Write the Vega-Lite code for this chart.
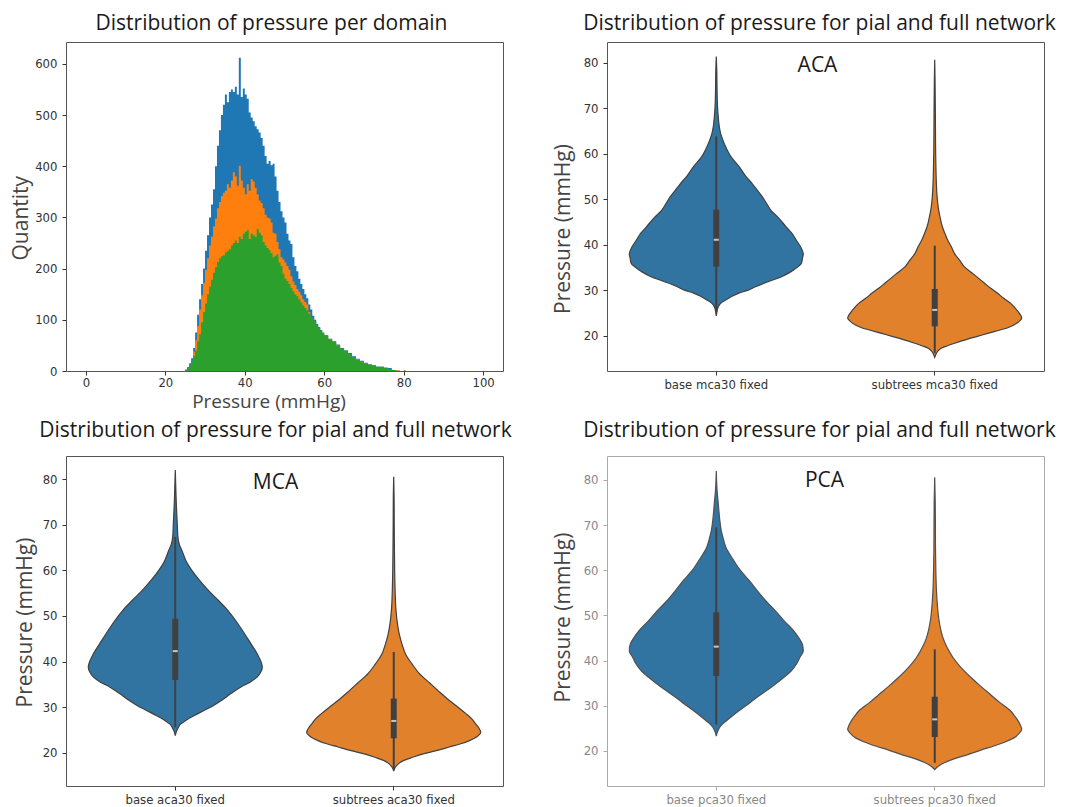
{
"$schema": "https://vega.github.io/schema/vega-lite/v6.json",
"background": "white",
"padding": {"left": 10, "top": 12, "right": 0, "bottom": 0},
"config": {
 "view": {"stroke": "#555555", "strokeWidth": 1},
 "axis": {"domain": false, "grid": false, "labelFont": "DejaVu Sans", "labelFontSize": 11.7, "labelColor": "#333333", "tickColor": "#333333", "tickSize": 4, "labelPadding": 4, "titleFont": "Open Sans", "titleFontSize": 21, "titleFontWeight": "normal", "titleColor": "#444444"},
 "title": {"font": "Open Sans", "fontSize": 21, "fontWeight": "normal", "color": "#1a1a1a", "anchor": "middle", "baseline": "bottom"}
},
"datasets": {
 "hist": [
  {"s":"domain 1","p":25,"n":3},{"s":"domain 1","p":25.5,"n":8},{"s":"domain 1","p":26,"n":15},{"s":"domain 1","p":26.5,"n":25},{"s":"domain 1","p":27,"n":45},{"s":"domain 1","p":27.5,"n":75},{"s":"domain 1","p":28,"n":110},{"s":"domain 1","p":28.5,"n":140},{"s":"domain 1","p":29,"n":170},{"s":"domain 1","p":29.5,"n":200},{"s":"domain 1","p":30,"n":235},{"s":"domain 1","p":30.5,"n":265},{"s":"domain 1","p":31,"n":300},{"s":"domain 1","p":31.5,"n":325},{"s":"domain 1","p":32,"n":355},{"s":"domain 1","p":32.5,"n":400},{"s":"domain 1","p":33,"n":440},{"s":"domain 1","p":33.5,"n":470},{"s":"domain 1","p":34,"n":500},{"s":"domain 1","p":34.5,"n":520},{"s":"domain 1","p":35,"n":540},{"s":"domain 1","p":35.5,"n":525},{"s":"domain 1","p":36,"n":545},{"s":"domain 1","p":36.5,"n":550},{"s":"domain 1","p":37,"n":545},{"s":"domain 1","p":37.5,"n":555},{"s":"domain 1","p":38,"n":540},{"s":"domain 1","p":38.5,"n":612},{"s":"domain 1","p":39,"n":535},{"s":"domain 1","p":39.5,"n":552},{"s":"domain 1","p":40,"n":540},{"s":"domain 1","p":40.5,"n":532},{"s":"domain 1","p":41,"n":505},{"s":"domain 1","p":41.5,"n":495},{"s":"domain 1","p":42,"n":488},{"s":"domain 1","p":42.5,"n":478},{"s":"domain 1","p":43,"n":472},{"s":"domain 1","p":43.5,"n":466},{"s":"domain 1","p":44,"n":455},{"s":"domain 1","p":44.5,"n":440},{"s":"domain 1","p":45,"n":420},{"s":"domain 1","p":45.5,"n":405},{"s":"domain 1","p":46,"n":410},{"s":"domain 1","p":46.5,"n":402},{"s":"domain 1","p":47,"n":405},{"s":"domain 1","p":47.5,"n":380},{"s":"domain 1","p":48,"n":352},{"s":"domain 1","p":48.5,"n":330},{"s":"domain 1","p":49,"n":312},{"s":"domain 1","p":49.5,"n":300},{"s":"domain 1","p":50,"n":290},{"s":"domain 1","p":50.5,"n":268},{"s":"domain 1","p":51,"n":255},{"s":"domain 1","p":51.5,"n":248},{"s":"domain 1","p":52,"n":222},{"s":"domain 1","p":52.5,"n":205},{"s":"domain 1","p":53,"n":195},{"s":"domain 1","p":53.5,"n":180},{"s":"domain 1","p":54,"n":170},{"s":"domain 1","p":54.5,"n":160},{"s":"domain 1","p":55,"n":150},{"s":"domain 1","p":55.5,"n":142},{"s":"domain 1","p":56,"n":130},{"s":"domain 1","p":56.5,"n":120},{"s":"domain 1","p":57,"n":108},{"s":"domain 1","p":57.5,"n":100},{"s":"domain 1","p":58,"n":92},{"s":"domain 1","p":58.5,"n":86},{"s":"domain 1","p":59,"n":80},{"s":"domain 1","p":59.5,"n":75},{"s":"domain 1","p":60,"n":70},{"s":"domain 1","p":61,"n":63},{"s":"domain 1","p":62,"n":58},{"s":"domain 1","p":63,"n":52},{"s":"domain 1","p":64,"n":45},{"s":"domain 1","p":65,"n":40},{"s":"domain 1","p":66,"n":35},{"s":"domain 1","p":67,"n":29},{"s":"domain 1","p":68,"n":24},{"s":"domain 1","p":69,"n":20},{"s":"domain 1","p":70,"n":16},{"s":"domain 1","p":71,"n":13},{"s":"domain 1","p":72,"n":11},{"s":"domain 1","p":73,"n":9},{"s":"domain 1","p":74,"n":8},{"s":"domain 1","p":75,"n":7},{"s":"domain 1","p":76,"n":6},{"s":"domain 1","p":77,"n":2},{"s":"domain 1","p":78,"n":1},{"s":"domain 1","p":79,"n":0},
  {"s":"domain 2","p":26,"n":5},{"s":"domain 2","p":26.5,"n":18},{"s":"domain 2","p":27,"n":38},{"s":"domain 2","p":27.5,"n":60},{"s":"domain 2","p":28,"n":88},{"s":"domain 2","p":28.5,"n":120},{"s":"domain 2","p":29,"n":148},{"s":"domain 2","p":29.5,"n":172},{"s":"domain 2","p":30,"n":198},{"s":"domain 2","p":30.5,"n":220},{"s":"domain 2","p":31,"n":245},{"s":"domain 2","p":31.5,"n":262},{"s":"domain 2","p":32,"n":282},{"s":"domain 2","p":32.5,"n":298},{"s":"domain 2","p":33,"n":318},{"s":"domain 2","p":33.5,"n":330},{"s":"domain 2","p":34,"n":342},{"s":"domain 2","p":34.5,"n":348},{"s":"domain 2","p":35,"n":352},{"s":"domain 2","p":35.5,"n":365},{"s":"domain 2","p":36,"n":358},{"s":"domain 2","p":36.5,"n":372},{"s":"domain 2","p":37,"n":388},{"s":"domain 2","p":37.5,"n":380},{"s":"domain 2","p":38,"n":362},{"s":"domain 2","p":38.5,"n":401},{"s":"domain 2","p":39,"n":372},{"s":"domain 2","p":39.5,"n":358},{"s":"domain 2","p":40,"n":345},{"s":"domain 2","p":40.5,"n":365},{"s":"domain 2","p":41,"n":352},{"s":"domain 2","p":41.5,"n":375},{"s":"domain 2","p":42,"n":370},{"s":"domain 2","p":42.5,"n":358},{"s":"domain 2","p":43,"n":345},{"s":"domain 2","p":43.5,"n":333},{"s":"domain 2","p":44,"n":328},{"s":"domain 2","p":44.5,"n":318},{"s":"domain 2","p":45,"n":305},{"s":"domain 2","p":45.5,"n":300},{"s":"domain 2","p":46,"n":298},{"s":"domain 2","p":46.5,"n":290},{"s":"domain 2","p":47,"n":270},{"s":"domain 2","p":47.5,"n":268},{"s":"domain 2","p":48,"n":252},{"s":"domain 2","p":48.5,"n":238},{"s":"domain 2","p":49,"n":222},{"s":"domain 2","p":49.5,"n":218},{"s":"domain 2","p":50,"n":212},{"s":"domain 2","p":50.5,"n":205},{"s":"domain 2","p":51,"n":198},{"s":"domain 2","p":51.5,"n":185},{"s":"domain 2","p":52,"n":175},{"s":"domain 2","p":52.5,"n":168},{"s":"domain 2","p":53,"n":160},{"s":"domain 2","p":53.5,"n":155},{"s":"domain 2","p":54,"n":148},{"s":"domain 2","p":54.5,"n":140},{"s":"domain 2","p":55,"n":135},{"s":"domain 2","p":55.5,"n":130},{"s":"domain 2","p":56,"n":115},{"s":"domain 2","p":56.5,"n":105},{"s":"domain 2","p":57,"n":100},{"s":"domain 2","p":57.5,"n":92},{"s":"domain 2","p":58,"n":86},{"s":"domain 2","p":58.5,"n":80},{"s":"domain 2","p":59,"n":76},{"s":"domain 2","p":59.5,"n":72},{"s":"domain 2","p":60,"n":68},{"s":"domain 2","p":61,"n":62},{"s":"domain 2","p":62,"n":56},{"s":"domain 2","p":63,"n":50},{"s":"domain 2","p":64,"n":42},{"s":"domain 2","p":65,"n":38},{"s":"domain 2","p":66,"n":33},{"s":"domain 2","p":67,"n":27},{"s":"domain 2","p":68,"n":23},{"s":"domain 2","p":69,"n":18},{"s":"domain 2","p":70,"n":15},{"s":"domain 2","p":71,"n":12},{"s":"domain 2","p":72,"n":10},{"s":"domain 2","p":73,"n":8},{"s":"domain 2","p":74,"n":8},{"s":"domain 2","p":75,"n":6},{"s":"domain 2","p":76,"n":4},{"s":"domain 2","p":77,"n":2},{"s":"domain 2","p":78,"n":1},{"s":"domain 2","p":79,"n":0},{"s":"domain 2","p":80,"n":2},{"s":"domain 2","p":80.5,"n":0},
  {"s":"domain 3","p":25,"n":2},{"s":"domain 3","p":25.5,"n":6},{"s":"domain 3","p":26,"n":12},{"s":"domain 3","p":26.5,"n":20},{"s":"domain 3","p":27,"n":30},{"s":"domain 3","p":27.5,"n":40},{"s":"domain 3","p":28,"n":58},{"s":"domain 3","p":28.5,"n":72},{"s":"domain 3","p":29,"n":95},{"s":"domain 3","p":29.5,"n":115},{"s":"domain 3","p":30,"n":132},{"s":"domain 3","p":30.5,"n":150},{"s":"domain 3","p":31,"n":165},{"s":"domain 3","p":31.5,"n":178},{"s":"domain 3","p":32,"n":192},{"s":"domain 3","p":32.5,"n":203},{"s":"domain 3","p":33,"n":213},{"s":"domain 3","p":33.5,"n":220},{"s":"domain 3","p":34,"n":224},{"s":"domain 3","p":34.5,"n":226},{"s":"domain 3","p":35,"n":232},{"s":"domain 3","p":35.5,"n":235},{"s":"domain 3","p":36,"n":238},{"s":"domain 3","p":36.5,"n":245},{"s":"domain 3","p":37,"n":250},{"s":"domain 3","p":37.5,"n":255},{"s":"domain 3","p":38,"n":250},{"s":"domain 3","p":38.5,"n":262},{"s":"domain 3","p":39,"n":258},{"s":"domain 3","p":39.5,"n":268},{"s":"domain 3","p":40,"n":272},{"s":"domain 3","p":40.5,"n":275},{"s":"domain 3","p":41,"n":258},{"s":"domain 3","p":41.5,"n":268},{"s":"domain 3","p":42,"n":265},{"s":"domain 3","p":42.5,"n":262},{"s":"domain 3","p":43,"n":278},{"s":"domain 3","p":43.5,"n":270},{"s":"domain 3","p":44,"n":265},{"s":"domain 3","p":44.5,"n":252},{"s":"domain 3","p":45,"n":245},{"s":"domain 3","p":45.5,"n":240},{"s":"domain 3","p":46,"n":236},{"s":"domain 3","p":46.5,"n":230},{"s":"domain 3","p":47,"n":222},{"s":"domain 3","p":47.5,"n":225},{"s":"domain 3","p":48,"n":228},{"s":"domain 3","p":48.5,"n":212},{"s":"domain 3","p":49,"n":205},{"s":"domain 3","p":49.5,"n":190},{"s":"domain 3","p":50,"n":180},{"s":"domain 3","p":50.5,"n":176},{"s":"domain 3","p":51,"n":170},{"s":"domain 3","p":51.5,"n":162},{"s":"domain 3","p":52,"n":156},{"s":"domain 3","p":52.5,"n":150},{"s":"domain 3","p":53,"n":146},{"s":"domain 3","p":53.5,"n":140},{"s":"domain 3","p":54,"n":134},{"s":"domain 3","p":54.5,"n":128},{"s":"domain 3","p":55,"n":123},{"s":"domain 3","p":55.5,"n":118},{"s":"domain 3","p":56,"n":112},{"s":"domain 3","p":56.5,"n":106},{"s":"domain 3","p":57,"n":100},{"s":"domain 3","p":57.5,"n":95},{"s":"domain 3","p":58,"n":88},{"s":"domain 3","p":58.5,"n":84},{"s":"domain 3","p":59,"n":78},{"s":"domain 3","p":59.5,"n":74},{"s":"domain 3","p":60,"n":70},{"s":"domain 3","p":61,"n":62},{"s":"domain 3","p":62,"n":57},{"s":"domain 3","p":63,"n":50},{"s":"domain 3","p":64,"n":44},{"s":"domain 3","p":65,"n":40},{"s":"domain 3","p":66,"n":34},{"s":"domain 3","p":67,"n":28},{"s":"domain 3","p":68,"n":22},{"s":"domain 3","p":69,"n":17},{"s":"domain 3","p":70,"n":15},{"s":"domain 3","p":71,"n":12},{"s":"domain 3","p":72,"n":11},{"s":"domain 3","p":73,"n":8},{"s":"domain 3","p":74,"n":9},{"s":"domain 3","p":75,"n":6},{"s":"domain 3","p":76,"n":4},{"s":"domain 3","p":77,"n":2},{"s":"domain 3","p":78,"n":0}
 ],
 "violin": [
  {"panel":"ACA","side":"base","p":81.3,"w":0},{"panel":"ACA","side":"base","p":78,"w":0.006},{"panel":"ACA","side":"base","p":75,"w":0.008},{"panel":"ACA","side":"base","p":72,"w":0.011},{"panel":"ACA","side":"base","p":70,"w":0.015},{"panel":"ACA","side":"base","p":68,"w":0.023},{"panel":"ACA","side":"base","p":66,"w":0.034},{"panel":"ACA","side":"base","p":64.5,"w":0.049},{"panel":"ACA","side":"base","p":63,"w":0.075},{"panel":"ACA","side":"base","p":61,"w":0.12},{"panel":"ACA","side":"base","p":59,"w":0.18},{"panel":"ACA","side":"base","p":57.2,"w":0.26},{"panel":"ACA","side":"base","p":55,"w":0.34},{"panel":"ACA","side":"base","p":53.5,"w":0.41},{"panel":"ACA","side":"base","p":52,"w":0.47},{"panel":"ACA","side":"base","p":50.5,"w":0.53},{"panel":"ACA","side":"base","p":49,"w":0.58},{"panel":"ACA","side":"base","p":47.5,"w":0.63},{"panel":"ACA","side":"base","p":46,"w":0.71},{"panel":"ACA","side":"base","p":44,"w":0.8},{"panel":"ACA","side":"base","p":42.5,"w":0.87},{"panel":"ACA","side":"base","p":41,"w":0.92},{"panel":"ACA","side":"base","p":39.5,"w":0.97},{"panel":"ACA","side":"base","p":38,"w":1.0},{"panel":"ACA","side":"base","p":37,"w":0.99},{"panel":"ACA","side":"base","p":36,"w":0.98},{"panel":"ACA","side":"base","p":35.2,"w":0.94},{"panel":"ACA","side":"base","p":34,"w":0.85},{"panel":"ACA","side":"base","p":33,"w":0.75},{"panel":"ACA","side":"base","p":32,"w":0.61},{"panel":"ACA","side":"base","p":30.8,"w":0.45},{"panel":"ACA","side":"base","p":30,"w":0.36},{"panel":"ACA","side":"base","p":29.4,"w":0.26},{"panel":"ACA","side":"base","p":28.6,"w":0.17},{"panel":"ACA","side":"base","p":27.9,"w":0.11},{"panel":"ACA","side":"base","p":27.3,"w":0.06},{"panel":"ACA","side":"base","p":26.8,"w":0.035},{"panel":"ACA","side":"base","p":26,"w":0.015},{"panel":"ACA","side":"base","p":25.2,"w":0.007},{"panel":"ACA","side":"base","p":24.4,"w":0},
  {"panel":"ACA","side":"sub","p":80.6,"w":0},{"panel":"ACA","side":"sub","p":76,"w":0.004},{"panel":"ACA","side":"sub","p":72,"w":0.006},{"panel":"ACA","side":"sub","p":68,"w":0.008},{"panel":"ACA","side":"sub","p":64.5,"w":0.009},{"panel":"ACA","side":"sub","p":60,"w":0.011},{"panel":"ACA","side":"sub","p":56,"w":0.015},{"panel":"ACA","side":"sub","p":53.5,"w":0.019},{"panel":"ACA","side":"sub","p":50,"w":0.03},{"panel":"ACA","side":"sub","p":48,"w":0.042},{"panel":"ACA","side":"sub","p":46.2,"w":0.06},{"panel":"ACA","side":"sub","p":44,"w":0.087},{"panel":"ACA","side":"sub","p":42.5,"w":0.117},{"panel":"ACA","side":"sub","p":41,"w":0.15},{"panel":"ACA","side":"sub","p":39.6,"w":0.19},{"panel":"ACA","side":"sub","p":38,"w":0.23},{"panel":"ACA","side":"sub","p":36.5,"w":0.29},{"panel":"ACA","side":"sub","p":35.2,"w":0.34},{"panel":"ACA","side":"sub","p":33.5,"w":0.45},{"panel":"ACA","side":"sub","p":31.6,"w":0.57},{"panel":"ACA","side":"sub","p":30.5,"w":0.64},{"panel":"ACA","side":"sub","p":29.4,"w":0.72},{"panel":"ACA","side":"sub","p":28.3,"w":0.79},{"panel":"ACA","side":"sub","p":27.2,"w":0.87},{"panel":"ACA","side":"sub","p":26.2,"w":0.92},{"panel":"ACA","side":"sub","p":25.3,"w":0.96},{"panel":"ACA","side":"sub","p":24.5,"w":0.99},{"panel":"ACA","side":"sub","p":23.9,"w":1.0},{"panel":"ACA","side":"sub","p":23.2,"w":0.97},{"panel":"ACA","side":"sub","p":22.4,"w":0.91},{"panel":"ACA","side":"sub","p":21.8,"w":0.84},{"panel":"ACA","side":"sub","p":21.3,"w":0.75},{"panel":"ACA","side":"sub","p":20.6,"w":0.62},{"panel":"ACA","side":"sub","p":19.9,"w":0.49},{"panel":"ACA","side":"sub","p":19.2,"w":0.36},{"panel":"ACA","side":"sub","p":18.4,"w":0.23},{"panel":"ACA","side":"sub","p":17.8,"w":0.14},{"panel":"ACA","side":"sub","p":17.3,"w":0.075},{"panel":"ACA","side":"sub","p":16.7,"w":0.038},{"panel":"ACA","side":"sub","p":16.2,"w":0.02},{"panel":"ACA","side":"sub","p":15.3,"w":0},
  {"panel":"MCA","side":"base","p":82,"w":0},{"panel":"MCA","side":"base","p":78,"w":0.006},{"panel":"MCA","side":"base","p":75,"w":0.011},{"panel":"MCA","side":"base","p":73.2,"w":0.015},{"panel":"MCA","side":"base","p":70,"w":0.023},{"panel":"MCA","side":"base","p":67.3,"w":0.03},{"panel":"MCA","side":"base","p":65.5,"w":0.049},{"panel":"MCA","side":"base","p":64.4,"w":0.075},{"panel":"MCA","side":"base","p":62,"w":0.125},{"panel":"MCA","side":"base","p":60,"w":0.19},{"panel":"MCA","side":"base","p":58,"w":0.27},{"panel":"MCA","side":"base","p":55.6,"w":0.38},{"panel":"MCA","side":"base","p":53.5,"w":0.49},{"panel":"MCA","side":"base","p":51.3,"w":0.6},{"panel":"MCA","side":"base","p":48.3,"w":0.72},{"panel":"MCA","side":"base","p":46,"w":0.8},{"panel":"MCA","side":"base","p":43.9,"w":0.87},{"panel":"MCA","side":"base","p":42.4,"w":0.92},{"panel":"MCA","side":"base","p":41,"w":0.96},{"panel":"MCA","side":"base","p":38.8,"w":1.0},{"panel":"MCA","side":"base","p":37.6,"w":0.98},{"panel":"MCA","side":"base","p":36.6,"w":0.94},{"panel":"MCA","side":"base","p":35.5,"w":0.86},{"panel":"MCA","side":"base","p":34.4,"w":0.75},{"panel":"MCA","side":"base","p":33,"w":0.64},{"panel":"MCA","side":"base","p":31.5,"w":0.53},{"panel":"MCA","side":"base","p":30.4,"w":0.44},{"panel":"MCA","side":"base","p":29.3,"w":0.33},{"panel":"MCA","side":"base","p":28.2,"w":0.22},{"panel":"MCA","side":"base","p":27.1,"w":0.12},{"panel":"MCA","side":"base","p":26.3,"w":0.06},{"panel":"MCA","side":"base","p":25.6,"w":0.035},{"panel":"MCA","side":"base","p":24.8,"w":0.015},{"panel":"MCA","side":"base","p":23.8,"w":0},
  {"panel":"MCA","side":"sub","p":80.5,"w":0},{"panel":"MCA","side":"sub","p":75,"w":0.005},{"panel":"MCA","side":"sub","p":70,"w":0.006},{"panel":"MCA","side":"sub","p":65,"w":0.008},{"panel":"MCA","side":"sub","p":60,"w":0.011},{"panel":"MCA","side":"sub","p":55,"w":0.017},{"panel":"MCA","side":"sub","p":51.3,"w":0.026},{"panel":"MCA","side":"sub","p":48,"w":0.045},{"panel":"MCA","side":"sub","p":46,"w":0.064},{"panel":"MCA","side":"sub","p":43.9,"w":0.094},{"panel":"MCA","side":"sub","p":41.5,"w":0.14},{"panel":"MCA","side":"sub","p":39.5,"w":0.21},{"panel":"MCA","side":"sub","p":37.5,"w":0.29},{"panel":"MCA","side":"sub","p":35.2,"w":0.42},{"panel":"MCA","side":"sub","p":33.3,"w":0.53},{"panel":"MCA","side":"sub","p":31.5,"w":0.64},{"panel":"MCA","side":"sub","p":30,"w":0.74},{"panel":"MCA","side":"sub","p":28.6,"w":0.83},{"panel":"MCA","side":"sub","p":27.4,"w":0.9},{"panel":"MCA","side":"sub","p":26.4,"w":0.94},{"panel":"MCA","side":"sub","p":25.4,"w":0.98},{"panel":"MCA","side":"sub","p":24.5,"w":1.0},{"panel":"MCA","side":"sub","p":23.6,"w":0.96},{"panel":"MCA","side":"sub","p":22.7,"w":0.87},{"panel":"MCA","side":"sub","p":22,"w":0.77},{"panel":"MCA","side":"sub","p":21.3,"w":0.64},{"panel":"MCA","side":"sub","p":20.5,"w":0.49},{"panel":"MCA","side":"sub","p":19.8,"w":0.34},{"panel":"MCA","side":"sub","p":19,"w":0.21},{"panel":"MCA","side":"sub","p":18.3,"w":0.11},{"panel":"MCA","side":"sub","p":17.6,"w":0.053},{"panel":"MCA","side":"sub","p":16.9,"w":0.019},{"panel":"MCA","side":"sub","p":16,"w":0},
  {"panel":"PCA","side":"base","p":82,"w":0},{"panel":"PCA","side":"base","p":78,"w":0.008},{"panel":"PCA","side":"base","p":74.7,"w":0.023},{"panel":"PCA","side":"base","p":71.5,"w":0.038},{"panel":"PCA","side":"base","p":68.8,"w":0.057},{"panel":"PCA","side":"base","p":67,"w":0.08},{"panel":"PCA","side":"base","p":65.1,"w":0.11},{"panel":"PCA","side":"base","p":62.5,"w":0.19},{"panel":"PCA","side":"base","p":59.9,"w":0.28},{"panel":"PCA","side":"base","p":57.7,"w":0.38},{"panel":"PCA","side":"base","p":55.5,"w":0.47},{"panel":"PCA","side":"base","p":53.2,"w":0.57},{"panel":"PCA","side":"base","p":51,"w":0.68},{"panel":"PCA","side":"base","p":48.8,"w":0.78},{"panel":"PCA","side":"base","p":46.6,"w":0.89},{"panel":"PCA","side":"base","p":45,"w":0.95},{"panel":"PCA","side":"base","p":43.6,"w":0.99},{"panel":"PCA","side":"base","p":42.2,"w":1.0},{"panel":"PCA","side":"base","p":40.7,"w":0.96},{"panel":"PCA","side":"base","p":39.2,"w":0.92},{"panel":"PCA","side":"base","p":37.7,"w":0.86},{"panel":"PCA","side":"base","p":36.2,"w":0.77},{"panel":"PCA","side":"base","p":34.8,"w":0.68},{"panel":"PCA","side":"base","p":33.3,"w":0.57},{"panel":"PCA","side":"base","p":31.8,"w":0.46},{"panel":"PCA","side":"base","p":30.3,"w":0.36},{"panel":"PCA","side":"base","p":28.9,"w":0.26},{"panel":"PCA","side":"base","p":27.7,"w":0.18},{"panel":"PCA","side":"base","p":26.6,"w":0.11},{"panel":"PCA","side":"base","p":25.9,"w":0.068},{"panel":"PCA","side":"base","p":25.2,"w":0.038},{"panel":"PCA","side":"base","p":24.3,"w":0.015},{"panel":"PCA","side":"base","p":23.3,"w":0},
  {"panel":"PCA","side":"sub","p":80.6,"w":0},{"panel":"PCA","side":"sub","p":75,"w":0.006},{"panel":"PCA","side":"sub","p":70,"w":0.008},{"panel":"PCA","side":"sub","p":65,"w":0.009},{"panel":"PCA","side":"sub","p":60,"w":0.013},{"panel":"PCA","side":"sub","p":56,"w":0.019},{"panel":"PCA","side":"sub","p":52.5,"w":0.03},{"panel":"PCA","side":"sub","p":49,"w":0.049},{"panel":"PCA","side":"sub","p":47,"w":0.068},{"panel":"PCA","side":"sub","p":45.1,"w":0.094},{"panel":"PCA","side":"sub","p":43,"w":0.14},{"panel":"PCA","side":"sub","p":40.7,"w":0.21},{"panel":"PCA","side":"sub","p":38.5,"w":0.3},{"panel":"PCA","side":"sub","p":36.2,"w":0.42},{"panel":"PCA","side":"sub","p":34.3,"w":0.53},{"panel":"PCA","side":"sub","p":32.5,"w":0.64},{"panel":"PCA","side":"sub","p":30.7,"w":0.75},{"panel":"PCA","side":"sub","p":28.9,"w":0.87},{"panel":"PCA","side":"sub","p":27.7,"w":0.92},{"panel":"PCA","side":"sub","p":26.6,"w":0.96},{"panel":"PCA","side":"sub","p":25.7,"w":0.985},{"panel":"PCA","side":"sub","p":24.8,"w":1.0},{"panel":"PCA","side":"sub","p":23.9,"w":0.97},{"panel":"PCA","side":"sub","p":22.9,"w":0.91},{"panel":"PCA","side":"sub","p":22,"w":0.81},{"panel":"PCA","side":"sub","p":21.1,"w":0.68},{"panel":"PCA","side":"sub","p":20.2,"w":0.53},{"panel":"PCA","side":"sub","p":19.2,"w":0.38},{"panel":"PCA","side":"sub","p":18.3,"w":0.23},{"panel":"PCA","side":"sub","p":17.4,"w":0.11},{"panel":"PCA","side":"sub","p":16.7,"w":0.045},{"panel":"PCA","side":"sub","p":15.9,"w":0}
 ],
 "box": [
  {"panel":"ACA","group":"base mca30 fixed","lo":25.4,"q1":35.2,"med":41.1,"q3":47.7,"hi":63.8},
  {"panel":"ACA","group":"subtrees mca30 fixed","lo":16.2,"q1":22.1,"med":25.7,"q3":30.3,"hi":39.8},
  {"panel":"MCA","group":"base aca30 fixed","lo":25.6,"q1":36.0,"med":42.3,"q3":49.4,"hi":67.3},
  {"panel":"MCA","group":"subtrees aca30 fixed","lo":16.5,"q1":23.2,"med":27.0,"q3":31.9,"hi":42.1},
  {"panel":"PCA","group":"base pca30 fixed","lo":25.9,"q1":36.6,"med":43.1,"q3":50.7,"hi":69.5},
  {"panel":"PCA","group":"subtrees pca30 fixed","lo":17.4,"q1":23.1,"med":27.0,"q3":32.0,"hi":42.5}
 ]
},
"columns": 2,
"spacing": {"row": 85, "column": 104},
"bounds": "flush",
"concat": [
 {
  "width": 437, "height": 329,
  "title": {"text": "Distribution of pressure per domain", "offset": 8, "dx": -13},
  "data": {"name": "hist"},
  "encoding": {
   "x": {"field": "p", "type": "quantitative", "scale": {"domain": [-5, 105], "nice": false, "zero": false}, "axis": {"values": [0, 20, 40, 60, 80, 100], "labelPadding": 2, "title": "Pressure (mmHg)", "titleFontSize": 19, "titleX": 202.5, "titleY": 30.5, "titleBaseline": "middle", "titleAlign": "center"}},
   "y": {"field": "n", "type": "quantitative", "stack": null, "scale": {"domain": [0, 642.6], "nice": false}, "axis": {"values": [0, 100, 200, 300, 400, 500, 600], "labelPadding": 5, "title": "Quantity", "titleX": -44.5, "titleY": 175.7, "titleBaseline": "middle", "titleAlign": "center", "titleAngle": -90}}
  },
  "layer": [
   {"transform": [{"filter": "datum.s === 'domain 1'"}], "mark": {"type": "area", "interpolate": "step-after", "color": "#1f77b4"}},
   {"transform": [{"filter": "datum.s === 'domain 2'"}], "mark": {"type": "area", "interpolate": "step-after", "color": "#ff7f0e"}},
   {"transform": [{"filter": "datum.s === 'domain 3'"}], "mark": {"type": "area", "interpolate": "step-after", "color": "#2ca02c"}}
  ]
 },
 {
  "width": 437, "height": 329,
  "title": {"text": "Distribution of pressure for pial and full network", "offset": 8, "dx": -6},
  "layer": [
   {"data": {"name": "violin"}, "transform": [{"filter": "datum.panel === 'ACA' && datum.side === 'base'"}],
    "mark": {"type": "area", "orient": "horizontal", "interpolate": "monotone", "color": "#3274a1", "stroke": "#404040", "strokeWidth": 1.2},
    "encoding": {
     "y": {"field": "p", "type": "quantitative", "title": "Pressure (mmHg)", "scale": {"domain": [12.3, 84.5], "nice": false, "zero": false}, "axis": {"values": [20, 30, 40, 50, 60, 70, 80], "labelPadding": 5, "titleX": -43.3, "titleY": 186.5, "titleBaseline": "middle", "titleAlign": "center", "titleAngle": -90}},
     "x": {"field": "w", "type": "quantitative", "stack": "center", "scale": {"domain": [-0.128, 2.383], "nice": false, "zero": false}, "axis": null}}},
   {"data": {"name": "violin"}, "transform": [{"filter": "datum.panel === 'ACA' && datum.side === 'sub'"}],
    "mark": {"type": "area", "orient": "horizontal", "interpolate": "monotone", "color": "#e1812c", "stroke": "#404040", "strokeWidth": 1.2},
    "encoding": {
     "y": {"field": "p", "type": "quantitative", "title": "Pressure (mmHg)", "scale": {"domain": [12.3, 84.5], "nice": false, "zero": false}},
     "x": {"field": "w", "type": "quantitative", "stack": "center", "scale": {"domain": [-1.383, 1.128], "nice": false, "zero": false}, "axis": null}}},
   {"data": {"name": "box"}, "transform": [{"filter": "datum.panel === 'ACA'"}],
    "encoding": {"x": {"field": "group", "type": "nominal", "scale": {"paddingInner": 0, "paddingOuter": 0}, "axis": {"title": null, "labelAngle": 0, "labelPadding": 4.5}}},
    "layer": [
     {"mark": {"type": "rule", "color": "#404040", "strokeWidth": 2}, "encoding": {"y": {"field": "lo", "type": "quantitative", "title": "Pressure (mmHg)", "scale": {"domain": [12.3, 84.5], "nice": false, "zero": false}}, "y2": {"field": "hi"}}},
     {"mark": {"type": "bar", "color": "#404040", "size": 6}, "encoding": {"y": {"field": "q1", "type": "quantitative", "title": "Pressure (mmHg)", "scale": {"domain": [12.3, 84.5], "nice": false, "zero": false}}, "y2": {"field": "q3"}}},
     {"mark": {"type": "tick", "color": "white", "size": 5, "thickness": 2}, "encoding": {"y": {"field": "med", "type": "quantitative", "title": "Pressure (mmHg)", "scale": {"domain": [12.3, 84.5], "nice": false, "zero": false}}}}
    ]},
   {"data": {"values": [{"label": "ACA", "p": 79.3}]}, "mark": {"type": "text", "font": "Open Sans", "fontSize": 21, "color": "#1a1a1a", "dx": -8, "baseline": "middle", "align": "center"},
    "encoding": {"y": {"field": "p", "type": "quantitative", "title": "Pressure (mmHg)", "scale": {"domain": [12.3, 84.5], "nice": false, "zero": false}}, "text": {"field": "label"}}}
  ],
  "resolve": {"scale": {"x": "independent"}}
 },
 {
  "width": 437, "height": 330,
  "title": {"text": "Distribution of pressure for pial and full network", "offset": 15, "dx": -9},
  "layer": [
   {"data": {"name": "violin"}, "transform": [{"filter": "datum.panel === 'MCA' && datum.side === 'base'"}],
    "mark": {"type": "area", "orient": "horizontal", "interpolate": "monotone", "color": "#3274a1", "stroke": "#404040", "strokeWidth": 1.2},
    "encoding": {
     "y": {"field": "p", "type": "quantitative", "title": "Pressure (mmHg)", "scale": {"domain": [12.75, 85.05], "nice": false, "zero": false}, "axis": {"values": [20, 30, 40, 50, 60, 70, 80], "labelPadding": 5, "titleX": -41, "titleY": 166, "titleBaseline": "middle", "titleAlign": "center", "titleAngle": -90}},
     "x": {"field": "w", "type": "quantitative", "stack": "center", "scale": {"domain": [-0.128, 2.383], "nice": false, "zero": false}, "axis": null}}},
   {"data": {"name": "violin"}, "transform": [{"filter": "datum.panel === 'MCA' && datum.side === 'sub'"}],
    "mark": {"type": "area", "orient": "horizontal", "interpolate": "monotone", "color": "#e1812c", "stroke": "#404040", "strokeWidth": 1.2},
    "encoding": {
     "y": {"field": "p", "type": "quantitative", "title": "Pressure (mmHg)", "scale": {"domain": [12.75, 85.05], "nice": false, "zero": false}},
     "x": {"field": "w", "type": "quantitative", "stack": "center", "scale": {"domain": [-1.383, 1.128], "nice": false, "zero": false}, "axis": null}}},
   {"data": {"name": "box"}, "transform": [{"filter": "datum.panel === 'MCA'"}],
    "encoding": {"x": {"field": "group", "type": "nominal", "scale": {"paddingInner": 0, "paddingOuter": 0}, "axis": {"title": null, "labelAngle": 0, "labelPadding": 4.5}}},
    "layer": [
     {"mark": {"type": "rule", "color": "#404040", "strokeWidth": 2}, "encoding": {"y": {"field": "lo", "type": "quantitative", "title": "Pressure (mmHg)", "scale": {"domain": [12.75, 85.05], "nice": false, "zero": false}}, "y2": {"field": "hi"}}},
     {"mark": {"type": "bar", "color": "#404040", "size": 6}, "encoding": {"y": {"field": "q1", "type": "quantitative", "title": "Pressure (mmHg)", "scale": {"domain": [12.75, 85.05], "nice": false, "zero": false}}, "y2": {"field": "q3"}}},
     {"mark": {"type": "tick", "color": "white", "size": 5, "thickness": 2}, "encoding": {"y": {"field": "med", "type": "quantitative", "title": "Pressure (mmHg)", "scale": {"domain": [12.75, 85.05], "nice": false, "zero": false}}}}
    ]},
   {"data": {"values": [{"label": "MCA", "p": 79.2}]}, "mark": {"type": "text", "font": "Open Sans", "fontSize": 21, "color": "#1a1a1a", "dx": -9, "baseline": "middle", "align": "center"},
    "encoding": {"y": {"field": "p", "type": "quantitative", "title": "Pressure (mmHg)", "scale": {"domain": [12.75, 85.05], "nice": false, "zero": false}}, "text": {"field": "label"}}}
  ],
  "resolve": {"scale": {"x": "independent"}}
 },
 {
  "width": 437, "height": 330,
  "view": {"stroke": "#aaaaaa"},
  "title": {"text": "Distribution of pressure for pial and full network", "offset": 15, "dx": -6},
  "layer": [
   {"data": {"name": "violin"}, "transform": [{"filter": "datum.panel === 'PCA' && datum.side === 'base'"}],
    "mark": {"type": "area", "orient": "horizontal", "interpolate": "monotone", "color": "#3274a1", "stroke": "#505050", "strokeWidth": 1.2},
    "encoding": {
     "y": {"field": "p", "type": "quantitative", "title": "Pressure (mmHg)", "scale": {"domain": [12.25, 85.3], "nice": false, "zero": false}, "axis": {"values": [20, 30, 40, 50, 60, 70, 80], "labelPadding": 5, "labelColor": "#888888", "tickColor": "#aaaaaa", "titleX": -43.3, "titleY": 161, "titleBaseline": "middle", "titleAlign": "center", "titleAngle": -90}},
     "x": {"field": "w", "type": "quantitative", "stack": "center", "scale": {"domain": [-0.128, 2.383], "nice": false, "zero": false}, "axis": null}}},
   {"data": {"name": "violin"}, "transform": [{"filter": "datum.panel === 'PCA' && datum.side === 'sub'"}],
    "mark": {"type": "area", "orient": "horizontal", "interpolate": "monotone", "color": "#e1812c", "stroke": "#505050", "strokeWidth": 1.2},
    "encoding": {
     "y": {"field": "p", "type": "quantitative", "title": "Pressure (mmHg)", "scale": {"domain": [12.25, 85.3], "nice": false, "zero": false}},
     "x": {"field": "w", "type": "quantitative", "stack": "center", "scale": {"domain": [-1.383, 1.128], "nice": false, "zero": false}, "axis": null}}},
   {"data": {"name": "box"}, "transform": [{"filter": "datum.panel === 'PCA'"}],
    "encoding": {"x": {"field": "group", "type": "nominal", "scale": {"paddingInner": 0, "paddingOuter": 0}, "axis": {"title": null, "labelAngle": 0, "labelPadding": 4.5, "labelColor": "#888888", "tickColor": "#aaaaaa"}}},
    "layer": [
     {"mark": {"type": "rule", "color": "#404040", "strokeWidth": 2}, "encoding": {"y": {"field": "lo", "type": "quantitative", "title": "Pressure (mmHg)", "scale": {"domain": [12.25, 85.3], "nice": false, "zero": false}}, "y2": {"field": "hi"}}},
     {"mark": {"type": "bar", "color": "#404040", "size": 6}, "encoding": {"y": {"field": "q1", "type": "quantitative", "title": "Pressure (mmHg)", "scale": {"domain": [12.25, 85.3], "nice": false, "zero": false}}, "y2": {"field": "q3"}}},
     {"mark": {"type": "tick", "color": "white", "size": 5, "thickness": 2}, "encoding": {"y": {"field": "med", "type": "quantitative", "title": "Pressure (mmHg)", "scale": {"domain": [12.25, 85.3], "nice": false, "zero": false}}}}
    ]},
   {"data": {"values": [{"label": "PCA", "p": 79.7}]}, "mark": {"type": "text", "font": "Open Sans", "fontSize": 21, "color": "#1a1a1a", "dx": -1, "baseline": "middle", "align": "center"},
    "encoding": {"y": {"field": "p", "type": "quantitative", "title": "Pressure (mmHg)", "scale": {"domain": [12.25, 85.3], "nice": false, "zero": false}}, "text": {"field": "label"}}}
  ],
  "resolve": {"scale": {"x": "independent"}}
 }
]
}
